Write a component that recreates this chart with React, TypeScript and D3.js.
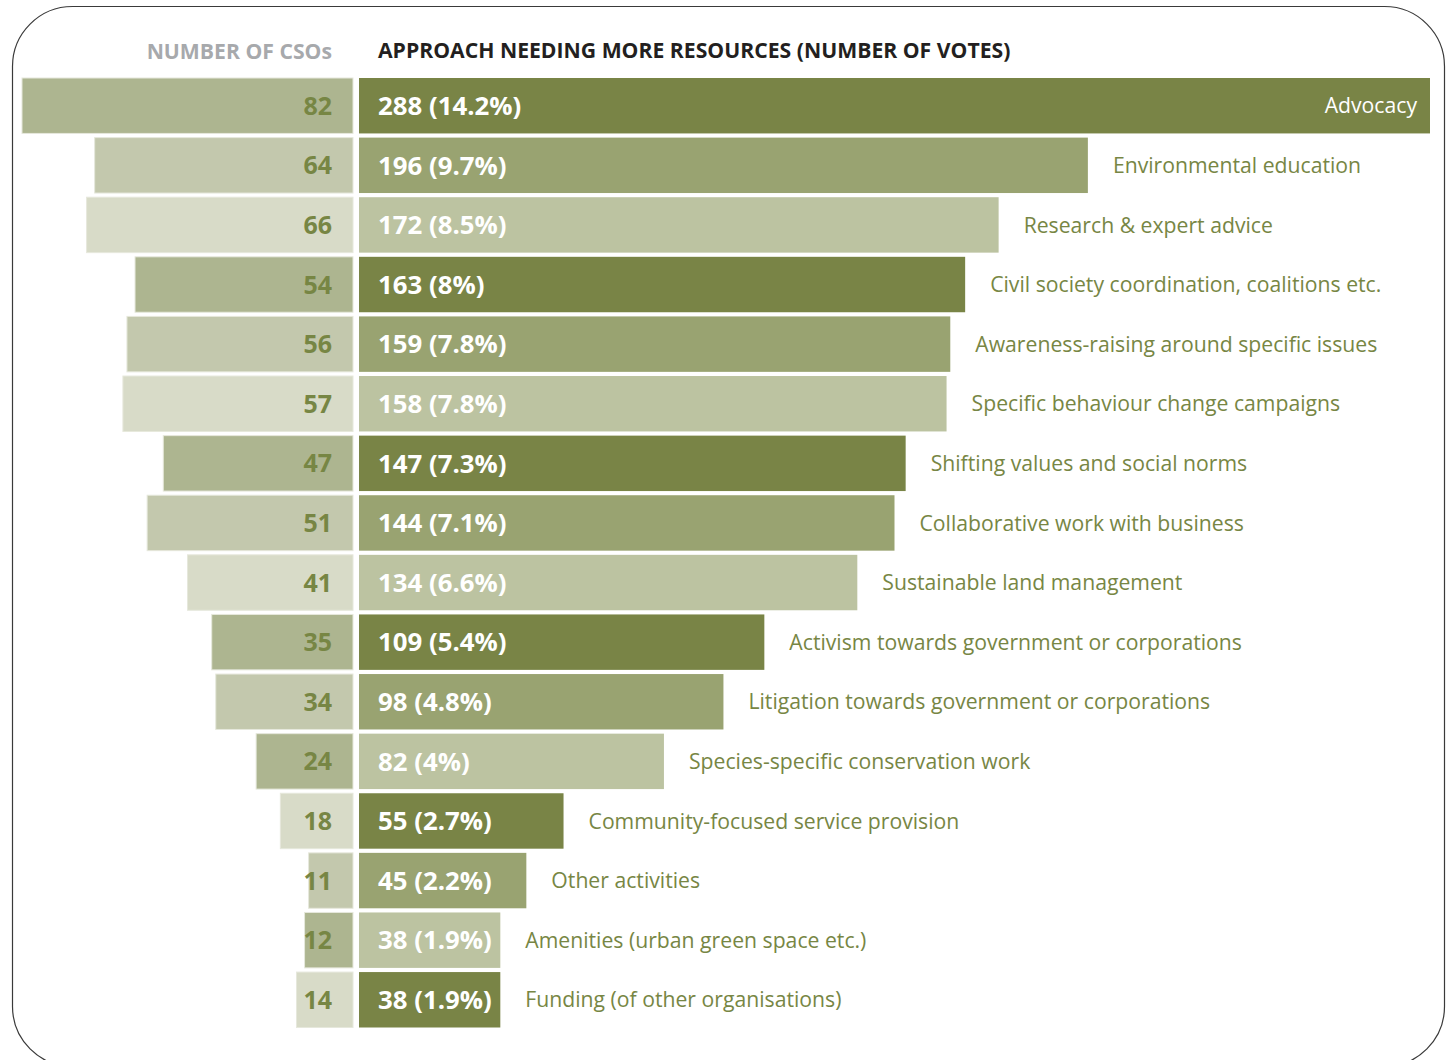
import React from 'react';
import * as d3 from 'd3';

const categories = [
  'Advocacy',
  'Environmental education',
  'Research & expert advice',
  'Civil society coordination, coalitions etc.',
  'Awareness-raising around specific issues',
  'Specific behaviour change campaigns',
  'Shifting values and social norms',
  'Collaborative work with business',
  'Sustainable land management',
  'Activism towards government or corporations',
  'Litigation towards government or corporations',
  'Species-specific conservation work',
  'Community-focused service provision',
  'Other activities',
  'Amenities (urban green space etc.)',
  'Funding (of other organisations)',
];
const votes = [288, 196, 172, 163, 159, 158, 147, 144, 134, 109, 98, 82, 55, 45, 38, 38];
const votePct = ['14.2', '9.7', '8.5', '8', '7.8', '7.8', '7.3', '7.1', '6.6', '5.4', '4.8', '4', '2.7', '2.2', '1.9', '1.9'];
const csoCounts = [82, 64, 66, 54, 56, 57, 47, 51, 41, 35, 34, 24, 18, 11, 12, 14];
const csoShade = [0, 1, 2, 0, 1, 2, 0, 1, 2, 0, 1, 0, 2, 1, 0, 2];
const leftTitle = 'NUMBER OF CSOs';
const rightTitle = 'APPROACH NEEDING MORE RESOURCES (NUMBER OF VOTES)';

const W = 1452;
const H = 1060;
const FONT = '"Open Sans", "Noto Sans", sans-serif';
const rightColors = ['#798446', '#99a371', '#bcc3a1'];
const leftColors = ['#adb590', '#c3c8ad', '#d8dbc8'];
const olive = '#778644';

export default function App() {
  const y = d3.scaleBand<string>().domain(categories).range([78, 1027.5]).paddingInner(0.07).paddingOuter(0);
  const xL = d3.scaleLinear().domain([0, d3.max(csoCounts) as number]).range([353, 22]);
  const xR = d3.scaleLinear().domain([0, d3.max(votes) as number]).range([359, 1430]);
  const bw = y.bandwidth();

  return (
    <svg width={W} height={H} style={{ position: 'absolute', left: 0, top: 0, display: 'block' }} fontFamily={FONT}>
      <rect x={0} y={0} width={W} height={H} fill="#fff" />
      <rect x={12.5} y={6.5} width={1432} height={1060} rx={60} ry={60} fill="none" stroke="#3a3a3a" strokeWidth={1.2} />
      <text x={332} y={59} textAnchor="end" fontWeight={700} fontSize={21.2} fill="#a7a9ac">{leftTitle}</text>
      <text x={378} y={58} fontWeight={700} fontSize={21.2} fill="#231f20">{rightTitle}</text>
      {categories.map((c, i) => {
        const top = y(c) as number;
        const cy = top + bw / 2;
        const first = i === 0;
        return (
          <g key={c}>
            <rect x={xL(csoCounts[i])} y={top} width={xL(0) - xL(csoCounts[i])} height={bw} fill={leftColors[csoShade[i]]} stroke="#e6e8dc" strokeWidth={1} />
            <text x={332} y={cy} dy="0.36em" textAnchor="end" fontWeight={700} fontSize={25} fill={olive}>{csoCounts[i]}</text>
            <rect x={xR(0)} y={top} width={xR(votes[i]) - xR(0)} height={bw} fill={rightColors[i % 3]} />
            <text x={378} y={cy} dy="0.36em" fontWeight={700} fontSize={25.8} fill="#fff">{`${votes[i]} (${votePct[i]}%)`}</text>
            {first ? (
              <text x={xR(votes[i]) - 13} y={cy} dy="0.36em" textAnchor="end" fontSize={21.2} fill="#fff">{c}</text>
            ) : (
              <text x={xR(votes[i]) + 25} y={cy} dy="0.36em" fontSize={21.2} fill={olive}>{c}</text>
            )}
          </g>
        );
      })}
    </svg>
  );
}
